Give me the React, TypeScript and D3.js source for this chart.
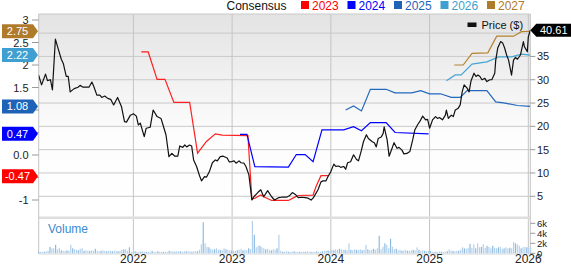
import React from "react";
import * as d3 from "d3";

// ---- data (decimal year, value) ----
const price: [number, number][] = [
  [2021.04, 31.0], [2021.07, 28.9], [2021.11, 31.2], [2021.13, 29.8], [2021.16, 30.0], [2021.18, 27.8],
  [2021.21, 38.7], [2021.24, 36.5], [2021.27, 34.4], [2021.29, 33.5], [2021.32, 30.7], [2021.34, 30.7],
  [2021.36, 27.4], [2021.40, 28.1], [2021.44, 28.4], [2021.46, 28.8], [2021.49, 28.4], [2021.55, 28.4],
  [2021.58, 29.5], [2021.60, 28.5], [2021.63, 26.7], [2021.66, 26.7], [2021.68, 26.2], [2021.71, 26.5],
  [2021.74, 26.0], [2021.77, 25.8], [2021.80, 24.6], [2021.84, 26.2], [2021.88, 24.2], [2021.91, 21.0],
  [2021.93, 20.9], [2021.97, 22.4], [2022.00, 22.7], [2022.03, 22.2], [2022.05, 20.3], [2022.07, 20.7],
  [2022.11, 17.8], [2022.13, 19.6], [2022.17, 19.8], [2022.20, 23.5], [2022.24, 22.1], [2022.28, 21.7],
  [2022.30, 20.3], [2022.33, 18.2], [2022.36, 13.5], [2022.39, 14.2], [2022.42, 13.6], [2022.45, 13.6],
  [2022.47, 15.8], [2022.50, 15.5], [2022.52, 16.0], [2022.54, 15.6], [2022.57, 16.0], [2022.59, 15.8],
  [2022.61, 12.8], [2022.64, 11.4], [2022.67, 9.4], [2022.69, 8.3], [2022.72, 9.2], [2022.74, 9.1],
  [2022.77, 10.3], [2022.80, 12.2], [2022.83, 12.8], [2022.85, 12.6], [2022.88, 13.5], [2022.91, 13.6],
  [2022.95, 13.2], [2022.97, 12.4], [2022.99, 12.4], [2023.02, 12.6], [2023.04, 12.1], [2023.07, 12.6],
  [2023.09, 12.2], [2023.12, 12.1], [2023.14, 11.4], [2023.17, 9.6], [2023.20, 4.2], [2023.22, 4.9],
  [2023.26, 5.8], [2023.29, 6.4], [2023.32, 4.9], [2023.36, 6.2], [2023.40, 4.9], [2023.43, 4.2],
  [2023.47, 4.7], [2023.50, 4.8], [2023.55, 4.8], [2023.58, 5.1], [2023.61, 5.8], [2023.64, 5.4],
  [2023.67, 4.7], [2023.70, 4.8], [2023.74, 4.7], [2023.77, 4.6], [2023.80, 4.2], [2023.82, 4.6],
  [2023.84, 5.3], [2023.87, 6.4], [2023.90, 8.1], [2023.92, 8.3], [2023.95, 8.3], [2023.97, 9.2],
  [2024.00, 10.3], [2024.03, 11.9], [2024.05, 11.4], [2024.08, 11.5], [2024.10, 11.2], [2024.13, 11.4],
  [2024.15, 10.8], [2024.17, 12.2], [2024.20, 12.4], [2024.23, 13.9], [2024.26, 12.9], [2024.28, 12.6],
  [2024.31, 14.9], [2024.33, 16.7], [2024.36, 18.2], [2024.38, 17.4], [2024.42, 16.7], [2024.44, 16.5],
  [2024.46, 15.6], [2024.48, 17.4], [2024.51, 17.7], [2024.53, 18.5], [2024.54, 19.9], [2024.57, 17.1],
  [2024.59, 13.6], [2024.62, 15.3], [2024.64, 16.5], [2024.67, 15.3], [2024.69, 15.5], [2024.72, 14.9],
  [2024.74, 14.1], [2024.77, 14.2], [2024.80, 14.6], [2024.83, 17.2], [2024.85, 19.2], [2024.88, 20.4],
  [2024.90, 21.0], [2024.93, 22.2], [2024.96, 21.4], [2024.98, 21.5], [2025.00, 19.6], [2025.03, 21.4],
  [2025.06, 22.1], [2025.08, 21.7], [2025.10, 21.9], [2025.13, 21.4], [2025.16, 22.4], [2025.17, 23.5],
  [2025.19, 21.7], [2025.22, 22.4], [2025.24, 22.1], [2025.26, 23.5], [2025.29, 23.9], [2025.31, 24.6],
  [2025.33, 27.4], [2025.35, 28.9], [2025.38, 28.2], [2025.40, 27.4], [2025.42, 29.8], [2025.45, 31.4],
  [2025.47, 30.7], [2025.49, 31.0], [2025.51, 30.7], [2025.53, 30.0], [2025.56, 30.3], [2025.58, 29.6],
  [2025.61, 30.0], [2025.63, 30.0], [2025.66, 31.4], [2025.67, 34.2], [2025.69, 36.8], [2025.72, 38.2],
  [2025.74, 37.9], [2025.76, 36.8], [2025.78, 35.3], [2025.80, 34.2], [2025.83, 31.0], [2025.85, 34.2],
  [2025.87, 34.8], [2025.89, 34.4], [2025.92, 35.3], [2025.95, 38.2], [2025.96, 37.1], [2025.99, 36.0],
  [2026.00, 39.2], [2026.02, 40.61],
];

const eps2023: [number, number][] = [
  [2022.08, 2.29], [2022.15, 2.29], [2022.24, 1.68], [2022.32, 1.68], [2022.41, 1.17], [2022.57, 1.17],
  [2022.65, 0.04], [2022.74, 0.3], [2022.83, 0.47], [2022.9, 0.44], [2023.16, 0.43], [2023.2, -0.98],
  [2023.23, -0.96], [2023.29, -0.89], [2023.33, -0.94], [2023.4, -1.01], [2023.57, -1.01], [2023.64, -0.93],
  [2023.67, -0.9], [2023.82, -0.89], [2023.85, -0.7], [2023.9, -0.46], [2023.98, -0.46],
];
const eps2024: [number, number][] = [
  [2023.08, 0.46], [2023.15, 0.46], [2023.23, -0.26], [2023.57, -0.27], [2023.65, 0.01], [2023.74, 0.01],
  [2023.82, -0.15], [2023.91, 0.56], [2024.13, 0.56], [2024.23, 0.63], [2024.31, 0.54], [2024.4, 0.72],
  [2024.56, 0.72], [2024.65, 0.5], [2024.99, 0.47],
];
const eps2025: [number, number][] = [
  [2024.15, 1.0], [2024.23, 1.09], [2024.31, 0.98], [2024.4, 1.46], [2024.56, 1.46], [2024.65, 1.38],
  [2024.82, 1.38], [2024.91, 1.43], [2025.0, 1.36], [2025.11, 1.36], [2025.22, 1.28], [2025.31, 1.28],
  [2025.38, 1.43], [2025.58, 1.43], [2025.67, 1.18], [2025.75, 1.16], [2025.89, 1.1], [2026.02, 1.08],
];
const eps2026: [number, number][] = [
  [2025.17, 1.65], [2025.26, 1.78], [2025.32, 1.78], [2025.43, 2.02], [2025.58, 2.07], [2025.7, 2.18],
  [2025.83, 2.18], [2025.93, 2.24], [2026.02, 2.22],
];
const eps2027: [number, number][] = [
  [2025.25, 2.0], [2025.34, 2.0], [2025.43, 2.26], [2025.59, 2.27], [2025.68, 2.64], [2025.85, 2.64],
  [2025.93, 2.74], [2026.02, 2.75],
];

// weekly volume (thousands), first week starting 2021.04
const volumeStart = 2021.04;
const volume: number[] = [
  0.3, 0.3, 0.3, 0.3, 0.4, 0.5, 1.3, 1.0, 1.0, 1.7,
  0.8, 1.1, 0.6, 0.5, 0.5, 0.6, 0.5, 1.7, 1.0, 0.8,
  0.7, 0.6, 0.9, 1.0, 0.5, 0.6, 0.5, 0.5, 0.6, 0.5,
  0.9, 0.5, 0.4, 0.5, 0.6, 0.5, 0.4, 0.5, 0.5, 0.4,
  0.5, 0.5, 0.4, 0.5, 0.7, 0.8, 0.8, 0.5, 1.2, 0.3,
  0.3, 0.4, 0.3, 0.3, 0.3, 0.4, 0.3, 0.3, 0.3, 0.3,
  0.5, 0.3, 0.3, 0.4, 0.3, 0.3, 0.3, 0.3, 0.3, 0.5,
  0.4, 0.4, 0.3, 0.4, 0.4, 0.4, 0.3, 0.4, 0.4, 0.4,
  0.4, 0.3, 0.4, 0.4, 0.4, 0.7, 1.8, 6.2, 2.0, 1.3,
  1.2, 0.9, 0.7, 0.8, 1.0, 0.7, 0.7, 0.6, 1.0, 0.8,
  0.7, 0.6, 0.5, 0.5, 0.5, 0.6, 0.7, 0.9, 0.6, 0.7,
  0.6, 1.0, 0.8, 6.5, 3.7, 1.2, 1.5, 1.5, 1.2, 1.0,
  0.8, 0.9, 0.7, 0.6, 0.8, 0.7, 1.0, 3.7, 0.5, 0.3,
  0.3, 0.4, 0.3, 0.3, 0.3, 0.4, 0.3, 0.3, 0.3, 0.3,
  0.3, 0.3, 0.4, 0.3, 0.3, 0.3, 0.3, 0.4, 0.3, 0.3,
  0.4, 0.5, 0.5, 0.6, 0.5, 0.7, 0.6, 0.8, 0.7, 0.9,
  0.8, 0.7, 0.7, 0.6, 2.0, 0.7, 0.6, 0.8, 0.7, 0.6,
  0.8, 0.6, 0.7, 1.7, 0.8, 0.6, 0.7, 0.9, 0.7, 1.0,
  3.5, 0.8, 1.3, 2.0, 1.7, 1.0, 2.9, 1.3, 0.8, 0.9,
  0.6, 0.7, 0.5, 0.6, 0.7, 0.5, 0.5, 0.6, 0.7, 0.6,
  1.2, 0.7, 0.5, 0.6, 0.5, 0.4, 0.5, 0.5, 0.3, 0.3,
  0.3, 0.3, 0.4, 0.3, 0.3, 0.3, 0.4, 0.8, 0.5, 0.5,
  0.4, 0.5, 0.5, 0.7, 1.2, 1.0, 0.9, 1.1, 1.9, 1.1,
  1.8, 1.0, 2.0, 1.2, 1.3, 1.8, 1.1, 1.5, 1.3, 1.0,
  1.5, 1.1, 1.0, 1.2, 1.3, 0.9, 1.0, 1.2, 1.0, 1.1,
  1.0, 2.3, 2.0, 1.8, 1.5, 1.0, 1.2, 1.3, 1.2, 1.0, 1.3,
];

const yearTicks = [2022, 2023, 2024, 2025, 2026];
const priceGrid = [40, 35, 30, 25, 20, 15, 10, 5];
const priceTickLabels = [35, 30, 25, 20, 15, 10, 5];
const epsTicks = [3, 2.5, 2, 1.5, 1, 0.5, 0, -0.5, -1];
// labels shown on the left axis (1, 0.5 and -0.5 are covered by the value badges)
const epsTickLabels = ["3", "2.5", "2", "1.5", "", "", "0.0", "", "-1"];
const volTicks = [0, 2, 4, 6];
const volTickLabels = ["0", "2k", "4k", "6k"];

const seriesNames = ["2023", "2024", "2025", "2026", "2027"];
const seriesColors = ["#ff2020", "#0000ff", "#2268bb", "#45a6d6", "#b5822f"];
const badgeColors = ["#ff0000", "#0000ff", "#1f63b6", "#3e9fd0", "#b07a2b"];
const badgeValues = [-0.47, 0.47, 1.08, 2.22, 2.75];
const lastPrice = 40.61;

const FONT = "'Liberation Sans', Arial, sans-serif";

export default function App() {
  const left = 38.7, right = 530.3, top = 14, priceBottom = 216.5, volTop = 219, volBottom = 254;
  const x = d3.scaleLinear().domain([2021.041, 2026.02]).range([left, right]);
  const yP = d3.scaleLinear().domain([0, 44.1]).range([219.6, top]);
  const yE = d3.scaleLinear().domain([-1, 3]).range([200, 20]);
  const yV = d3.scaleLinear().domain([0, 6]).range([253.3, 223.3]);

  const priceLine = d3.line<[number, number]>().x(d => x(d[0])).y(d => yP(d[1]));
  const epsLine = d3.line<[number, number]>().x(d => x(d[0])).y(d => yE(d[1]));
  const epsSeries = [eps2023, eps2024, eps2025, eps2026, eps2027];
  const weekYears = 7 / 365.25;

  const legendItems = seriesNames.map((n, i) => ({ n, c: badgeColors[i], x: 301 + i * 46.5 }));

  return (
    <svg width={571} height={264} style={{ position: "absolute", left: 0, top: 0, fontFamily: FONT }}>
      <defs>
        <linearGradient id="bg" x1="0" y1="0" x2="0" y2="1">
          <stop offset="0" stopColor="#e3e3e3" />
          <stop offset="0.6" stopColor="#fdfdfd" />
          <stop offset="1" stopColor="#ffffff" />
        </linearGradient>
        <clipPath id="pclip">
          <rect x={left} y={top} width={right - left} height={priceBottom - top} />
        </clipPath>
      </defs>
      <rect x={0} y={0} width={571} height={264} fill="#fff" />
      <rect x={left} y={top} width={right - left} height={priceBottom - top} fill="url(#bg)" />
      <rect x={left} y={volTop} width={right - left} height={volBottom - volTop} fill="#fff" />

      {priceGrid.map(v => (
        <line key={v} x1={left} x2={right} y1={yP(v)} y2={yP(v)} stroke="#c9c9c9" strokeWidth={1} />
      ))}
      {yearTicks.map(t => (
        <line key={t} x1={x(t)} x2={x(t)} y1={top} y2={volBottom} stroke="#c4c4c4" strokeWidth={1} />
      ))}
      <rect x={left} y={priceBottom} width={right - left} height={volTop - priceBottom} fill="#dedede" />
      <line x1={left} x2={right} y1={top} y2={top} stroke="#c9c9c9" />
      <line x1={left} x2={left} y1={top} y2={volBottom} stroke="#c4c4c4" />
      <line x1={right} x2={right} y1={top} y2={volBottom} stroke="#c4c4c4" />
      <line x1={left} x2={right} y1={volBottom} y2={volBottom} stroke="#d8d8d8" />

      {volume.map((v, i) => {
        const t = volumeStart + i * weekYears;
        const bx = x(t);
        return (
          <rect key={i} x={bx - 0.6} y={yV(v)} width={1.2} height={yV(0) - yV(v)}
            fill={i % 3 === 0 ? "#8dbbe2" : "#b3d1ec"} />
        );
      })}
      <text x={48} y={233} fontSize={12} fill="#3b8ad0">Volume</text>

      <g clipPath="url(#pclip)">
        {epsSeries.map((s, i) => (
          <path key={i} d={epsLine(s) || ""} fill="none" stroke={seriesColors[i]} strokeWidth={1.2} />
        ))}
        <path d={priceLine(price) || ""} fill="none" stroke="#111" strokeWidth={1.2} strokeLinejoin="round" />
      </g>

      <rect x={467.5} y={22.5} width={9} height={4.5} fill="#111" />
      <text x={481.5} y={29} fontSize={11} fill="#111">Price ($)</text>

      {priceTickLabels.map(v => (
        <g key={v}>
          <line x1={right} x2={right + 5} y1={yP(v)} y2={yP(v)} stroke="#999" />
          <text x={537} y={yP(v) + 4} fontSize={11} fill="#222">{v}</text>
        </g>
      ))}
      {volTicks.map((v, i) => (
        <g key={v}>
          <line x1={right} x2={right + 5} y1={yV(v)} y2={yV(v)} stroke="#999" />
          <text x={537} y={yV(v) + 3.5} fontSize={9.5} fill="#222">{volTickLabels[i]}</text>
        </g>
      ))}
      <path d={`M${right},${yP(lastPrice)} L${right + 6},${yP(lastPrice) - 6.5} L571,${yP(lastPrice) - 6.5} L571,${yP(lastPrice) + 6.5} L${right + 6},${yP(lastPrice) + 6.5} Z`} fill="#000" />
      <text x={540} y={yP(lastPrice) + 4} fontSize={11} fill="#fff">{lastPrice.toFixed(2)}</text>

      {epsTicks.map((v, i) => (
        <g key={v}>
          <line x1={32} x2={left} y1={yE(v)} y2={yE(v)} stroke="#999" />
          {epsTickLabels[i] && (
            <text x={28.5} y={yE(v) + 4} fontSize={11} fill="#222" textAnchor="end">{epsTickLabels[i]}</text>
          )}
        </g>
      ))}
      {badgeValues.map((v, i) => {
        const yy = yE(v);
        return (
          <g key={i}>
            <path d={`M2,${yy - 7} L33,${yy - 7} L38,${yy} L33,${yy + 7} L2,${yy + 7} Z`} fill={badgeColors[i]} />
            <text x={17.5} y={yy + 4} fontSize={11} fill="#fff" textAnchor="middle">{v.toFixed(2)}</text>
          </g>
        );
      })}

      {yearTicks.map(t => (
        <text key={t} x={x(t)} y={263} fontSize={12} fill="#222" textAnchor="middle">{t}</text>
      ))}

      <text x={226.5} y={10} fontSize={12} fill="#111">Consensus</text>
      {legendItems.map(it => (
        <g key={it.n}>
          <rect x={it.x} y={1} width={8} height={8} fill={it.c} />
          <text x={it.x + 11} y={10} fontSize={12} fill={it.c}>{it.n}</text>
        </g>
      ))}
    </svg>
  );
}
